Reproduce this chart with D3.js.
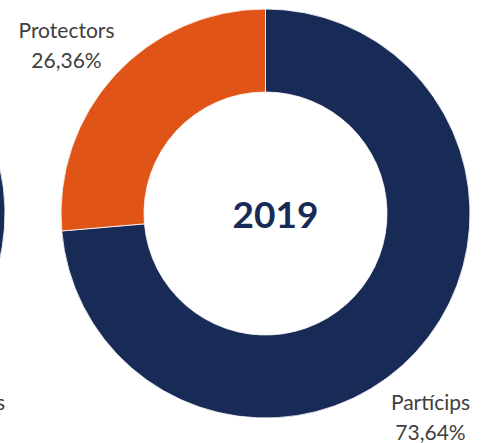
<!DOCTYPE html>
<html>
<head>
<meta charset="utf-8">
<script src="https://cdn.jsdelivr.net/npm/d3@7"></script>
<style>
  html, body { margin: 0; padding: 0; background: #fff; }
  svg { display: block; }
</style>
</head>
<body>
<svg id="chart" width="485" height="443"></svg>
<script>
// Share of members by type
const categories = ["Partícips", "Protectors"];
const shares = [73.64, 26.36];
const shareLabels = ["73,64%", "26,36%"];
const years = ["2018", "2019"];
const colors = ["#182b56", "#e05517"];

const outerR = 204.5, innerR = 121.5;
const cy = 213.5;

const svg = d3.select("#chart");

// panels laid out side by side; only the right edge of the previous one shows
const xPanel = d3.scalePoint().domain(years).range([-199.5, 265.5]);

const pie = d3.pie().sort(null).value(d => d.value);
const arc = d3.arc().innerRadius(innerR).outerRadius(outerR);

const rows = categories.map((c, i) => ({ name: c, value: shares[i], label: shareLabels[i], color: colors[i] }));

// outside label anchors relative to each ring centre
const labelPos = { "Partícips": [165, 196], "Protectors": [-199, -176] };

years.forEach(yr => {
  const current = yr === years[years.length - 1];
  const g = svg.append("g").attr("transform", `translate(${xPanel(yr)},${cy})`);

  g.selectAll("path")
    .data(pie(rows))
    .join("path")
    .attr("d", arc)
    .attr("fill", d => d.data.color)
    .attr("stroke", "#fff")
    .attr("stroke-width", 0.8);

  if (current) {
    g.append("text")
      .attr("x", 10)
      .attr("y", 14)
      .attr("text-anchor", "middle")
      .attr("font-family", "Lato, sans-serif")
      .attr("font-weight", 700)
      .attr("font-size", 37)
      .attr("fill", "#182b56")
      .text(yr);
  }

  // name on the first line, share on the second (previous panel: only the
  // tail of the bottom-right name reaches into view)
  rows.filter(r => current || r.name === "Partícips").forEach(r => {
    const [lx, ly] = labelPos[r.name];
    const t = g.append("text")
      .attr("text-anchor", "middle")
      .attr("font-family", "Lato, sans-serif")
      .attr("font-size", 21)
      .attr("fill", "#404040");
    t.append("tspan").attr("x", lx).attr("y", ly).text(r.name);
    if (current) t.append("tspan").attr("x", lx).attr("y", ly + 30).text(r.label);
  });
});
</script>
</body>
</html>
